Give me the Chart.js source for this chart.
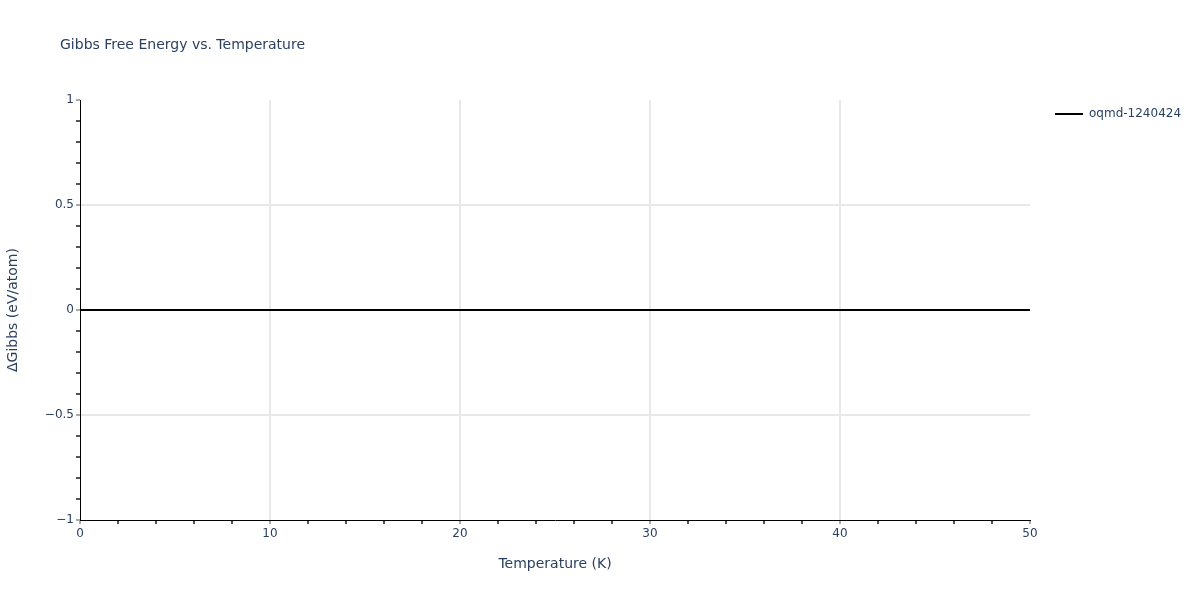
<!DOCTYPE html>
<html>
<head>
<meta charset="utf-8">
<script src="https://cdn.jsdelivr.net/npm/chart.js@4"></script>
<style>
  html, body { margin:0; padding:0; background:#fff; }
  #wrap { width:1200px; height:600px; }
</style>
</head>
<body>
<div id="wrap"><canvas id="c" width="1200" height="600"></canvas></div>
<script>
// datos
const temperatures = [0, 10, 20, 30, 40, 50];
const gibbs = [0, 0, 0, 0, 0, 0];
const seriesName = 'oqmd-1240424';
const chartTitle = 'Gibbs Free Energy vs. Temperature';
const xTitle = 'Temperature (K)';
const yTitle = '\u0394Gibbs (eV/atom)';

const FONT = '"DejaVu Sans", Verdana, sans-serif';
const TXT = '#2a3f5f';
const GRID = '#e8e8e8';

function isMajor(v, step){ return Math.abs(v/step - Math.round(v/step)) < 1e-6; }
function fmt(v){ return v < 0 ? '\u2212' + Math.abs(v) : String(v); }

// titulo y leyenda dibujados a mano (estilo plotly)
const extras = {
  id: 'extras',
  afterDraw(chart){
    const ctx = chart.ctx;
    ctx.save();
    ctx.fillStyle = TXT;
    ctx.font = '14px ' + FONT;
    ctx.textBaseline = 'middle';
    ctx.textAlign = 'left';
    ctx.fillText(chartTitle, 60, 45);

    const ds = chart.data.datasets[0];
    ctx.strokeStyle = ds.borderColor;
    ctx.lineWidth = 2;
    ctx.beginPath();
    ctx.moveTo(1055, 114);
    ctx.lineTo(1083, 114);
    ctx.stroke();
    ctx.font = '12px ' + FONT;
    ctx.fillText(ds.label, 1089, 114);
    ctx.restore();
  }
};

new Chart(document.getElementById('c'), {
  type: 'line',
  data: {
    datasets: [{
      label: seriesName,
      data: temperatures.map((t,i)=>({x:t, y:gibbs[i]})),
      borderColor: '#000000',
      borderWidth: 2,
      pointRadius: 0,
      tension: 0
    }]
  },
  options: {
    responsive: false,
    animation: false,
    layout: { padding: { left: 0, right: 170, top: 100, bottom: 27 } },
    plugins: { legend: { display:false }, title: { display:false }, tooltip: { enabled:false } },
    scales: {
      x: {
        type: 'linear', min: 0, max: 50,
        afterFit: s => { s.height = 53; },
        border: { color: '#000', width: 1 },
        grid: {
          color: c => (isMajor(c.tick.value,10) && c.tick.value>0 && c.tick.value<50) ? GRID : 'rgba(0,0,0,0)',
          tickColor: c => isMajor(c.tick.value,10) ? '#aaaaaa' : '#555555',
          tickLength: 4, lineWidth: 2
        },
        ticks: {
          stepSize: 2, autoSkip: false, maxRotation: 0, padding: 3,
          color: TXT, font: { family: FONT, size: 12 },
          callback: v => isMajor(v,10) ? fmt(v) : ''
        },
        title: { display: true, text: xTitle, color: TXT, font: { family: FONT, size: 14 }, padding: { top: 11, bottom: 0 } }
      },
      y: {
        min: -1, max: 1,
        afterFit: s => { s.width = 80; },
        border: { color: '#000', width: 1 },
        grid: {
          color: c => (isMajor(c.tick.value,0.5) && c.tick.value<1 && c.tick.value>-1) ? GRID : 'rgba(0,0,0,0)',
          tickColor: c => isMajor(c.tick.value,0.5) ? '#aaaaaa' : '#555555',
          tickLength: 4, lineWidth: 2
        },
        ticks: {
          stepSize: 0.1, autoSkip: false, padding: 2,
          color: TXT, font: { family: FONT, size: 12 },
          callback: v => isMajor(v,0.5) ? fmt(Math.round(v*10)/10) : ''
        },
        title: { display: true, text: yTitle, color: TXT, font: { family: FONT, size: 14 }, padding: { top: 5, bottom: 12 } }
      }
    }
  },
  plugins: [extras]
});
</script>
</body>
</html>
